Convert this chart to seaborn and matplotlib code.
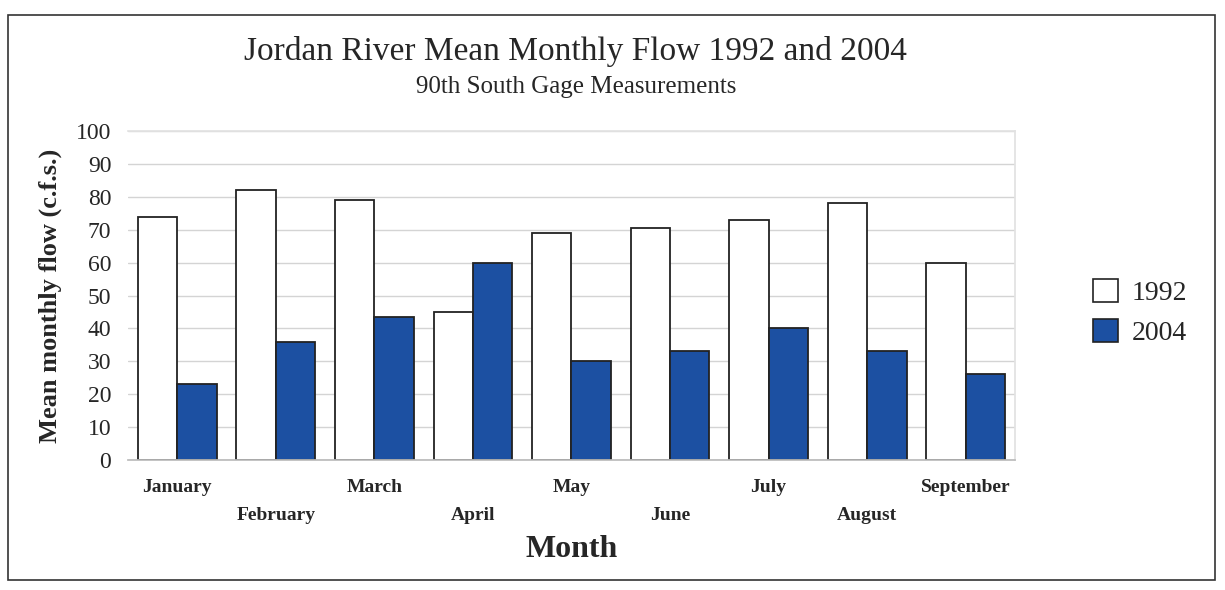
import matplotlib
matplotlib.use("Agg")
import matplotlib.pyplot as plt
from matplotlib.patches import Rectangle, Patch
import seaborn as sns
import pandas as pd

# data
months = ["January", "February", "March", "April", "May",
          "June", "July", "August", "September"]
flow_1992 = [74, 82, 79, 45, 69, 70.5, 73, 78, 60]
flow_2004 = [23, 36, 43.5, 60, 30, 33, 40, 33, 26]
years = ["1992", "2004"]
y_ticks = list(range(0, 101, 10))

df = pd.DataFrame({
    "Month": months * 2,
    "Year": [years[0]] * len(months) + [years[1]] * len(months),
    "Flow": flow_1992 + flow_2004,
})

sns.set_theme(style="white")
plt.rcParams["font.family"] = ["Liberation Serif", "DejaVu Serif"]

fig = plt.figure(figsize=(12.25, 5.9), dpi=100)
ax = fig.add_axes([0.1045, 0.2203, 0.724, 0.5576])

palette = {"1992": "white", "2004": "#1c50a2"}
sns.barplot(data=df, x="Month", y="Flow", hue="Year", palette=palette,
            saturation=1, width=0.8, gap=0, edgecolor="#222222", linewidth=1.3,
            legend=False, ax=ax)

ax.set_ylim(0, 100)
ax.set_yticks(y_ticks)
ax.tick_params(axis="y", labelsize=17, pad=12, length=0)
ax.yaxis.grid(True, color="#d4d4d4", linewidth=1)
ax.set_axisbelow(True)
for side in ["top", "right"]:
    ax.spines[side].set_color("#e2e2e2")
ax.spines["left"].set_visible(False)
ax.spines["bottom"].set_color("#bbbbbb")

# staggered month labels
labels = [m if i % 2 == 0 else "\n" + m for i, m in enumerate(months)]
ax.set_xticks(range(len(months)))
ax.set_xticklabels(labels, fontsize=14, fontweight="bold", linespacing=1.8)
ax.tick_params(axis="x", length=0, pad=14)

ax.set_xlabel("Month", fontsize=23, fontweight="bold", labelpad=8)
ax.set_ylabel("Mean monthly flow (c.f.s.)", fontsize=19, fontweight="bold", labelpad=10)

fig.text(0.47, 0.913, "Jordan River Mean Monthly Flow 1992 and 2004",
         ha="center", va="center", fontsize=24)
fig.text(0.47, 0.852, "90th South Gage Measurements",
         ha="center", va="center", fontsize=18)

handles = [Patch(facecolor=palette[y], edgecolor="#222222", linewidth=1.2, label=y)
           for y in years]
fig.legend(handles=handles, loc="center left", bbox_to_anchor=(0.872, 0.47),
           frameon=False, fontsize=20, handlelength=0.9, handleheight=0.9,
           handletextpad=0.5, labelspacing=0.45)

# outer border like the pasted chart box
fig.patches.append(Rectangle((0.0065, 0.017), 0.9855, 0.958, transform=fig.transFigure,
                             fill=False, edgecolor="#333333", linewidth=1.2))

fig.savefig("out.png", dpi=100)
